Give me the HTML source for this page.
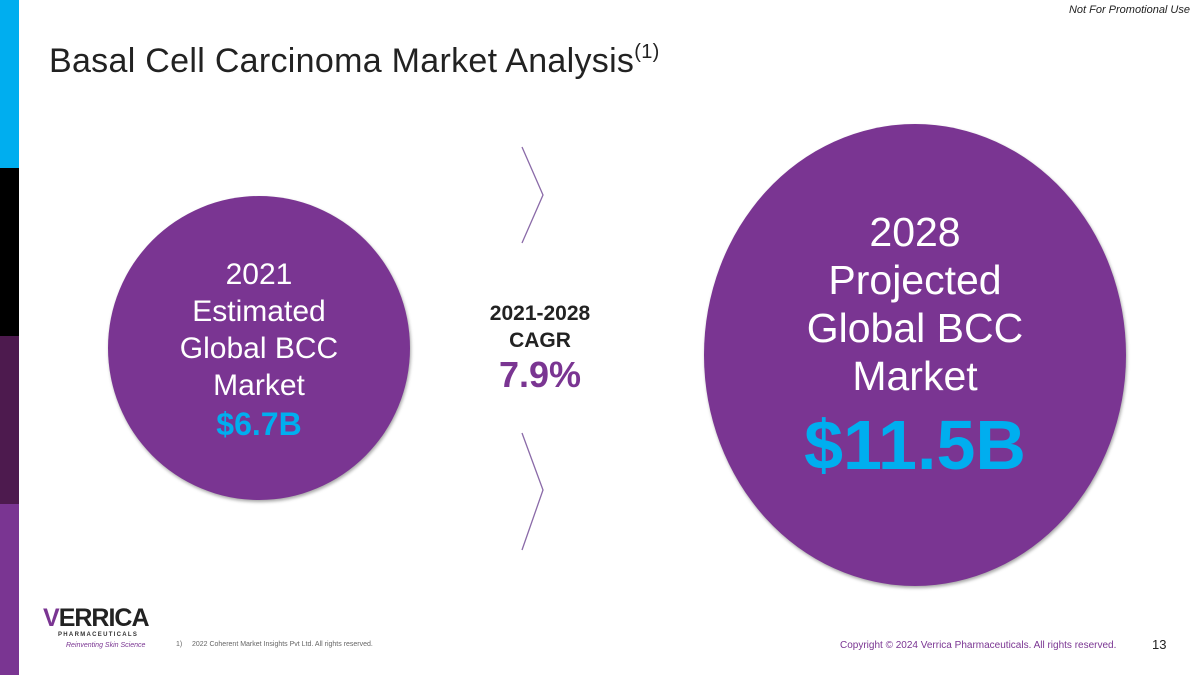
<!DOCTYPE html>
<html><head><meta charset="utf-8"><style>
body{margin:0;width:1200px;height:675px;position:relative;overflow:hidden;background:#fff;font-family:"Liberation Sans","DejaVu Sans",sans-serif}
.a{position:absolute}
.c{position:absolute;border-radius:50%;background:#7a3592;box-shadow:1px 2px 3px rgba(0,0,0,.35);color:#fff;text-align:center}
</style></head><body>
<div class="a" style="left:0;top:0;width:19px;height:168px;background:#00aeef"></div>
<div class="a" style="left:0;top:168px;width:19px;height:168px;background:#000"></div>
<div class="a" style="left:0;top:336px;width:19px;height:168px;background:#4d1a4e"></div>
<div class="a" style="left:0;top:504px;width:19px;height:171px;background:#7a3592"></div>
<div class="a" style="right:10px;top:4px;font-size:11px;font-style:italic;color:#222">Not For Promotional Use</div>
<div class="a" style="left:49px;top:42px;font-size:34px;color:#222;white-space:nowrap;letter-spacing:0.3px">Basal Cell Carcinoma Market Analysis<sup style="font-size:20px;position:relative;top:-2px">(1)</sup></div>

<div class="c" style="left:108px;top:196px;width:302px;height:304px">
<div style="margin-top:60px;font-size:30px;line-height:37px">2021<br>Estimated<br>Global BCC<br>Market</div>
<div style="font-size:32px;font-weight:bold;color:#00aeef;line-height:40px">$6.7B</div>
</div>

<div class="c" style="left:704px;top:124px;width:422px;height:462px">
<div style="margin-top:84px;font-size:41px;line-height:48px">2028<br>Projected<br>Global BCC<br>Market</div>
<div style="font-size:70px;font-weight:bold;color:#00aeef;line-height:90px">$11.5B</div>
</div>

<svg class="a" style="left:515px;top:140px" width="40" height="420">
<polyline points="7,7 28,55 7,103" fill="none" stroke="#8a6aa8" stroke-width="1.3"/>
<polyline points="7,293 28,350 7,410" fill="none" stroke="#8a6aa8" stroke-width="1.3"/>
</svg>
<div class="a" style="left:440px;top:300px;width:200px;text-align:center;font-size:21px;font-weight:bold;color:#222;line-height:27px">2021-2028<br>CAGR</div>
<div class="a" style="left:440px;top:354px;width:200px;text-align:center;font-size:36px;font-weight:bold;color:#7a3592">7.9%</div>

<div class="a" style="left:43px;top:604px;font-size:25px;font-weight:bold;color:#222;letter-spacing:-1px"><span style="color:#7a3592">V</span>ERRICA</div>
<div class="a" style="left:58px;top:632px;font-size:6px;font-weight:bold;color:#333;letter-spacing:1.3px">PHARMACEUTICALS</div>
<div class="a" style="left:66px;top:642px;font-size:7px;font-style:italic;color:#7a3592">Reinventing Skin Science</div>
<div class="a" style="left:176px;top:641px;font-size:7px;color:#666">1)&nbsp;&nbsp;&nbsp;&nbsp;&nbsp;2022 Coherent Market Insights Pvt Ltd. All rights reserved.</div>
<div class="a" style="left:840px;top:640px;font-size:10px;color:#7a3592">Copyright © 2024 Verrica Pharmaceuticals. All rights reserved.</div>
<div class="a" style="left:1152px;top:637px;font-size:13px;color:#222">13</div>
</body></html>
